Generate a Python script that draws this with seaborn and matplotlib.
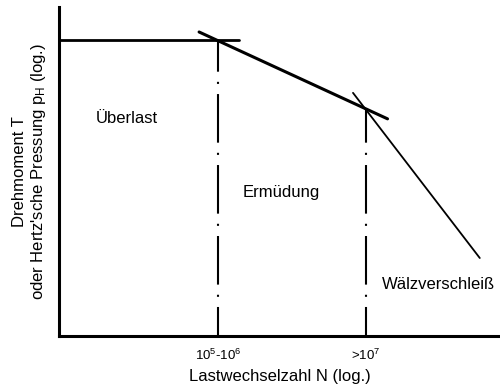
import numpy as np
import pandas as pd
import seaborn as sns
import matplotlib
matplotlib.use('Agg')
import matplotlib.pyplot as plt

# schematic Woehler-type diagram, x = log10(N), y = relative log torque
plateau_n      = [3.89, 5.71]
plateau_t      = [9.0, 9.0]
fatigue_n      = [5.31, 7.22]
fatigue_t      = [9.24, 6.6]
wear_n         = [6.87, 8.155]
wear_t         = [7.39, 2.37]
limit_n        = [5.5, 7.0]
limit_t        = [9.0, 6.9]
tick_labels    = [r'10$\mathregular{^5}$-10$\mathregular{^6}$', r'>10$\mathregular{^7}$']
region_names   = ['Überlast', 'Ermüdung', 'Wälzverschleiß']

sns.set_theme(style='white')
plt.rcParams['font.family'] = ['Liberation Sans', 'DejaVu Sans']
plt.rcParams['text.color'] = 'black'
plt.rcParams['axes.labelcolor'] = 'black'
plt.rcParams['xtick.color'] = 'black'
plt.rcParams['lines.scale_dashes'] = False

fig = plt.figure(figsize=(5, 3.9), dpi=100)
ax = fig.add_axes([0.118, 0.1385, 0.882, 0.8436])

sns.lineplot(x=plateau_n, y=plateau_t, ax=ax, color='black', linewidth=2.0,
             sort=False, estimator=None)
sns.lineplot(x=fatigue_n, y=fatigue_t, ax=ax, color='black', linewidth=2.2,
             sort=False, estimator=None)
sns.lineplot(x=wear_n, y=wear_t, ax=ax, color='black', linewidth=1.3,
             sort=False, estimator=None)

# dash-dot limits, drawn from the axis upward
for n, t in zip(limit_n, limit_t):
    ax.plot([n, n], [0, t], color='black', linewidth=1.5,
            linestyle=(14.1, (35, 7.3, 1.5, 7.3)))

ax.text(4.26, 6.6, region_names[0], fontsize=12, va='center')
ax.text(5.75, 4.35, region_names[1], fontsize=12, va='center')
ax.text(7.16, 1.55, region_names[2], fontsize=12, va='center')

ax.set_xlim(3.89, 8.36)
ax.set_ylim(0, 10)
ax.set_xticks(limit_n)
ax.set_xticklabels(tick_labels, fontsize=9.5)
ax.set_yticks([])
ax.tick_params(axis='x', length=0, pad=8.5)

ax.set_xlabel('Lastwechselzahl N (log.)', fontsize=12, va='center')
ax.xaxis.set_label_coords(0.5, -0.122)
ax.set_ylabel("Drehmoment T\noder Hertz'sche Pressung $\\mathregular{p_H}$ (log.)",
              fontsize=12, va='center', linespacing=1.15)
ax.yaxis.set_label_coords(-0.066, 0.5)

sns.despine(ax=ax)
for side in ['left', 'bottom']:
    ax.spines[side].set_linewidth(2.2)
    ax.spines[side].set_color('black')

fig.savefig('out.png', dpi=100)
